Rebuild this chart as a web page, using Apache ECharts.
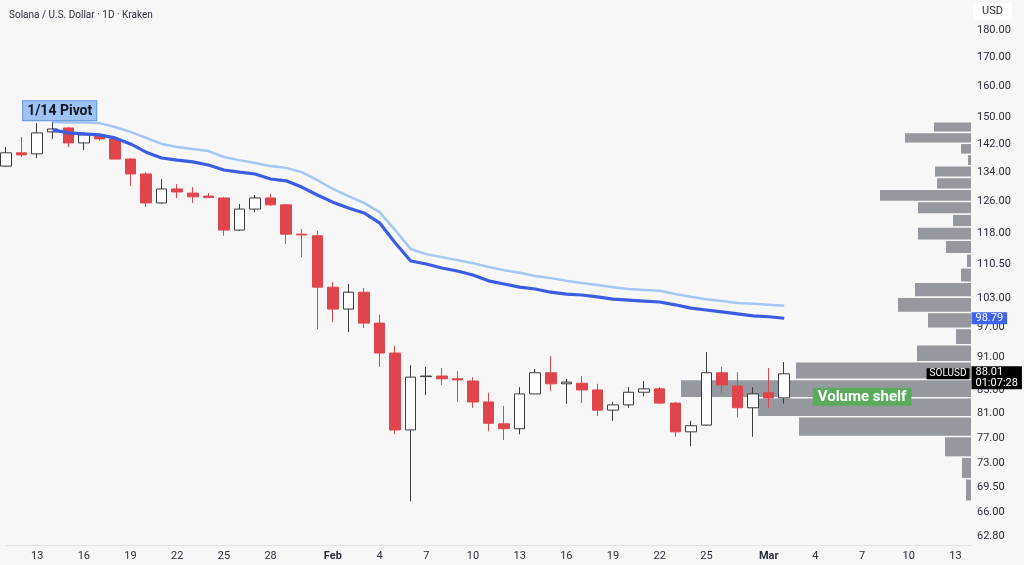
<!DOCTYPE html>
<html>
<head>
<meta charset="utf-8">
<script src="https://cdn.jsdelivr.net/npm/echarts@6/dist/echarts.min.js"></script>
<style>
html, body { margin: 0; padding: 0; background: #f7f7f8; }
#chart { width: 1024px; height: 565px; }
</style>
</head>
<body>
<div id="chart"></div>
<script>
// daily categories, Jan 11 .. Mar 14 (right side is empty future space)
const days = [
  'Jan 11','Jan 12','Jan 13','Jan 14','Jan 15','Jan 16','Jan 17','Jan 18','Jan 19','Jan 20',
  'Jan 21','Jan 22','Jan 23','Jan 24','Jan 25','Jan 26','Jan 27','Jan 28','Jan 29','Jan 30','Jan 31',
  'Feb 1','Feb 2','Feb 3','Feb 4','Feb 5','Feb 6','Feb 7','Feb 8','Feb 9','Feb 10',
  'Feb 11','Feb 12','Feb 13','Feb 14','Feb 15','Feb 16','Feb 17','Feb 18','Feb 19','Feb 20',
  'Feb 21','Feb 22','Feb 23','Feb 24','Feb 25','Feb 26','Feb 27','Feb 28',
  'Mar 1','Mar 2','Mar 3','Mar 4','Mar 5','Mar 6','Mar 7','Mar 8','Mar 9','Mar 10',
  'Mar 11','Mar 12','Mar 13','Mar 14'
]
const tickDays = ['Jan 13','Jan 16','Jan 19','Jan 22','Jan 25','Jan 28','Feb 1','Feb 4','Feb 7','Feb 10',
  'Feb 13','Feb 16','Feb 19','Feb 22','Feb 25','Mar 1','Mar 4','Mar 7','Mar 10','Mar 13']
const priceTicks = [180, 170, 160, 150, 142, 134, 126, 118, 110.5, 103, 97, 91, 85, 81, 77, 73, 69.5, 66, 62.8]

// OHLC, Jan 11 .. Mar 2
const opens = [135.6, 139.4, 139.1, 145.6, 146.8, 142.3, 144.4, 143.5, 137.6, 133.4,
  125.6, 129.3, 128.2, 127.4, 126.9, 118.7, 124.0, 126.9, 125.1, 117.7,
  117.3, 105.4, 100.7, 104.3, 97.8, 91.9, 78.3, 87.5, 87.6, 87.1,
  86.7, 83.0, 79.3, 78.5, 84.4, 88.2, 86.2, 86.3, 85.1, 81.6,
  82.5, 84.7, 85.3, 82.8, 78.0, 79.1, 88.2, 85.8, 82.0, 84.6, 83.7]
const highs = [141.1, 144.1, 148.3, 148.7, 147.1, 145.6, 144.7, 144.1, 137.9, 133.9,
  132.0, 130.6, 129.8, 128.2, 127.2, 125.3, 127.7, 128.0, 125.3, 119.0,
  118.5, 106.5, 106.1, 105.2, 99.5, 93.3, 89.6, 89.3, 89.1, 88.5,
  87.4, 84.6, 82.3, 85.6, 88.9, 91.3, 87.1, 87.6, 86.2, 83.0,
  85.6, 86.7, 85.6, 83.0, 79.8, 92.1, 89.3, 88.3, 85.6, 89.1, 90.2]
const lows = [135.3, 138.2, 137.9, 143.5, 141.1, 140.2, 142.9, 137.5, 130.1, 124.5,
  125.3, 126.9, 125.6, 126.9, 117.3, 118.5, 123.2, 124.8, 115.3, 112.2,
  96.6, 98.0, 96.0, 96.8, 89.3, 77.6, 67.5, 84.2, 86.0, 83.0,
  82.0, 78.1, 76.7, 77.6, 84.4, 84.9, 82.7, 82.8, 80.6, 79.8,
  82.0, 84.0, 82.7, 77.2, 75.7, 79.0, 84.6, 80.4, 77.2, 82.0, 82.7]
const closes = [139.4, 138.8, 145.3, 146.5, 142.3, 144.7, 143.5, 137.6, 133.4, 125.6,
  129.3, 128.5, 127.2, 127.0, 118.7, 124.0, 126.9, 125.1, 117.7, 117.5,
  105.4, 100.7, 104.3, 97.8, 91.9, 78.3, 87.4, 87.6, 87.1, 86.9,
  83.0, 79.4, 78.5, 84.4, 88.2, 86.2, 86.5, 85.1, 81.6, 82.5,
  84.7, 85.3, 82.8, 78.0, 79.0, 88.2, 86.0, 82.0, 84.4, 83.7, 88.01]

// moving averages, Jan 14 .. Mar 2
const emaFirstDay = 'Jan 14'
const emaDark = [146.2, 145.3, 145.0, 144.7, 143.8, 142.0, 139.6, 137.9, 137.3, 136.8,
  135.9, 134.5, 133.9, 133.4, 132.0, 131.5, 129.8, 127.7, 125.8, 124.3,
  123.0, 120.5, 115.6, 111.3, 110.6, 109.7, 109.0, 108.1, 106.8, 106.1,
  105.4, 105.0, 104.3, 103.9, 103.7, 103.3, 102.8, 102.6, 102.4, 102.2,
  101.6, 100.9, 100.5, 100.1, 99.7, 99.3, 99.1, 98.79]
const emaLight = [148.6, 148.5, 148.5, 148.3, 147.1, 145.6, 143.8, 142.0, 141.1, 140.5,
  139.9, 138.2, 137.3, 136.5, 135.6, 135.1, 133.9, 131.7, 129.3, 127.4,
  125.6, 123.2, 118.7, 114.1, 112.9, 112.2, 111.5, 110.8, 109.9, 109.2,
  108.6, 107.9, 107.4, 106.8, 106.3, 105.9, 105.4, 105.0, 104.8, 104.6,
  103.9, 103.3, 102.8, 102.4, 102.0, 101.8, 101.6, 101.4]

// visible range volume profile, 25 rows from high to low (relative volume)
const profileVolumes = [37, 66, 10, 3, 36, 34, 91, 53, 18, 53, 25, 4, 10,
  56, 73, 43, 15, 54, 175, 290, 213, 172, 26, 9, 5]

const countdown = '01:07:28'

const FONT = 'Roboto, "Liberation Sans", sans-serif'
const RED = '#e0454c'

const candleData = opens.map((o, i) => [o, closes[i], lows[i], highs[i]])
const emaStart = days.indexOf(emaFirstDay)
const emaDarkData = emaDark.map((v, i) => [days[emaStart + i], v])
const emaLightData = emaLight.map((v, i) => [days[emaStart + i], v])

const pHigh = Math.max(...highs)
const pLow = Math.min(...lows)
const rowStep = (pHigh - pLow) / profileVolumes.length
const profileData = profileVolumes.map((v, i) => [v, pHigh - (i + 1) * rowStep, pHigh - i * rowStep])

const lastDay = days[days.length - 1]
const lastClose = closes[closes.length - 1]
const lastEma = emaDark[emaDark.length - 1]

const chart = echarts.init(document.getElementById('chart'))

const option = {
  backgroundColor: '#f7f7f8',
  animation: false,
  title: [
    {
      text: 'Solana / U.S. Dollar · 1D · Kraken',
      left: 4, top: 5,
      textStyle: { fontFamily: FONT, fontSize: 10, fontWeight: 'normal', color: '#2a2e39' }
    },
    {
      text: 'USD',
      left: 973, top: 3,
      padding: [3, 9],
      backgroundColor: '#ffffff',
      borderRadius: 2,
      textStyle: { fontFamily: FONT, fontSize: 11, fontWeight: 'normal', color: '#2a2e39' }
    }
  ],
  grid: { left: 6, right: 53, top: 0, bottom: 20 },
  xAxis: [
    {
      type: 'category',
      data: days,
      boundaryGap: false,
      axisLine: { show: true, lineStyle: { color: '#e3e3e6' } },
      axisTick: { show: false },
      splitLine: { show: false },
      axisLabel: {
        interval: (idx, val) => tickDays.includes(val),
        margin: 6,
        fontFamily: FONT,
        fontSize: 11,
        color: '#2a2e39',
        formatter: (val) => {
          const [m, d] = val.split(' ')
          return d === '1' ? '{b|' + m + '}' : d
        },
        rich: { b: { fontFamily: FONT, fontSize: 11, fontWeight: 'bold', color: '#2a2e39' } }
      }
    },
    {
      // volume scale for the profile, drawn from the right edge
      type: 'value',
      inverse: true,
      min: 0,
      max: 965,
      show: false
    }
  ],
  yAxis: {
    type: 'log',
    position: 'right',
    min: 61.63,
    max: 191.6,
    axisLine: { show: false },
    axisTick: { show: false },
    splitLine: { show: false },
    axisLabel: {
      customValues: priceTicks,
      margin: 6,
      fontFamily: FONT,
      fontSize: 11,
      color: '#2a2e39',
      formatter: (v) => Number(v).toFixed(2)
    }
  },
  series: [
    {
      name: 'profile',
      type: 'custom',
      xAxisIndex: 1,
      yAxisIndex: 0,
      z: 1,
      silent: true,
      data: profileData,
      encode: { x: 0, y: [1, 2] },
      renderItem: (params, api) => {
        const top = api.coord([0, api.value(2)])
        const bot = api.coord([api.value(0), api.value(1)])
        return {
          type: 'rect',
          shape: { x: bot[0], y: top[1] + 0.8, width: top[0] - bot[0], height: bot[1] - top[1] - 1.6 },
          style: { fill: '#96989f' }
        }
      }
    },
    {
      name: 'SOLUSD',
      type: 'candlestick',
      z: 3,
      clip: false,
      barWidth: 11,
      data: candleData,
      itemStyle: {
        color: '#ffffff',
        color0: RED,
        borderColor: '#3a3a3e',
        borderColor0: RED,
        borderWidth: 1
      },
      markPoint: {
        symbol: 'rect',
        symbolSize: 1,
        itemStyle: { color: 'rgba(0,0,0,0)' },
        z: 10,
        data: [
          {
            coord: [emaFirstDay, highs[days.indexOf(emaFirstDay)]],
            label: {
              show: true,
              position: 'top',
              distance: 1,
              offset: [7, 0],
              formatter: '1/14 Pivot',
              fontFamily: FONT,
              fontSize: 14,
              fontWeight: 'bold',
              color: '#131722',
              backgroundColor: '#9fc3f3',
              borderColor: '#5f92de',
              borderWidth: 1,
              padding: [3, 4, 2, 4]
            }
          },
          {
            coord: ['Mar 7', 83.9],
            label: {
              show: true,
              position: 'inside',
              formatter: 'Volume shelf',
              fontFamily: FONT,
              fontSize: 15,
              fontWeight: 'bold',
              color: '#ffffff',
              backgroundColor: '#5bab5d',
              padding: [2, 5, 1, 5]
            }
          },
          {
            coord: [lastDay, lastClose],
            label: {
              show: true,
              position: 'right',
              distance: 0,
              offset: [0, 4],
              formatter: lastClose.toFixed(2) + '\n' + countdown,
              fontFamily: FONT,
              fontSize: 11,
              lineHeight: 11,
              color: '#ffffff',
              backgroundColor: '#000000',
              padding: [1, 4, 0, 4]
            }
          },
          {
            coord: [lastDay, lastClose],
            label: {
              show: true,
              position: 'left',
              distance: 1,
              formatter: 'SOLUSD',
              fontFamily: FONT,
              fontSize: 10,
              color: '#ffffff',
              backgroundColor: '#000000',
              padding: [1, 3, 0, 3]
            }
          }
        ]
      }
    },
    {
      name: 'EMA slow',
      type: 'line',
      z: 4,
      data: emaLightData,
      symbol: 'none',
      lineStyle: { color: '#a3c6f4', width: 2.5 }
    },
    {
      name: 'EMA fast',
      type: 'line',
      z: 4,
      data: emaDarkData,
      symbol: 'none',
      lineStyle: { color: '#3b5de3', width: 3.2 },
      markPoint: {
        symbol: 'rect',
        symbolSize: 1,
        itemStyle: { color: 'rgba(0,0,0,0)' },
        z: 10,
        data: [
          {
            coord: [lastDay, lastEma],
            label: {
              show: true,
              position: 'right',
              distance: 0,
              formatter: lastEma.toFixed(2),
              fontFamily: FONT,
              fontSize: 11,
              color: '#ffffff',
              backgroundColor: '#3f63ee',
              padding: [1, 4, 0, 4]
            }
          }
        ]
      }
    }
  ]
}

chart.setOption(option)
</script>
</body>
</html>
